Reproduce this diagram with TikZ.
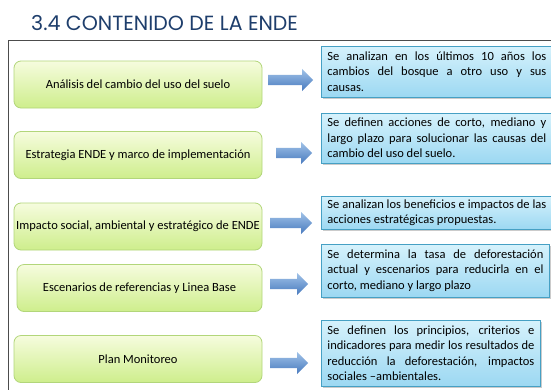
\documentclass[tikz,border=0pt]{standalone}
\usepackage{fontspec}
\setmainfont{Carlito}
\newfontfamily\titlefont{Poppins}
\usetikzlibrary{shapes.arrows,shadows}
\definecolor{titleblue}{RGB}{30,62,108}
\definecolor{stageedge}{RGB}{178,214,122}
\definecolor{stagetop}{RGB}{246,252,222}
\definecolor{stagebottom}{RGB}{206,238,140}
\definecolor{noteedge}{RGB}{70,160,196}
\definecolor{notetop}{RGB}{214,242,252}
\definecolor{notebottom}{RGB}{156,216,242}
\definecolor{arrowtop}{RGB}{160,194,232}
\definecolor{arrowbottom}{RGB}{72,122,190}
\newcommand\nohyph{\hyphenpenalty=10000 \exhyphenpenalty=10000 }

\begin{document}
\begin{tikzpicture}[
  	x=1pt,
  	y=-1pt,
  	font=\fontsize{12.5}{15}\selectfont,
  	stage/.style={draw=stageedge,line width=0.8pt,rounded corners=7pt,top color=stagetop,bottom color=stagebottom,minimum width=248pt,minimum height=47pt,align=center,inner sep=1pt},
  	note/.style={draw=noteedge,line width=0.8pt,top color=notetop,bottom color=notebottom,align=justify,inner xsep=6pt,anchor=west,font=\fontsize{12.5}{15.5}\selectfont\nohyph,drop shadow={shadow xshift=2pt,shadow yshift=-2pt,fill=black!40}},
  	pointer/.style={single arrow,draw=none,top color=arrowtop,bottom color=arrowbottom,inner xsep=0pt,inner ysep=5pt,single arrow head extend=6pt,anchor=west}
  	]
  	\clip (0,0) rectangle (551,389);
  	\fill[white] (0,0) rectangle (551,389);
  	
  	\node[anchor=base west,inner sep=0pt,font=\titlefont\fontsize{20.5}{25}\selectfont,text=titleblue] (title) at (31,30) {3.4 CONTENIDO DE LA ENDE};
  	
  	% frame
  	\draw[black!70,line width=0.9pt] (8,400) -- (8,40) -- (560,40);
  	
  	% left column
  	\node[stage] (stage1) at (138,84.5) {Análisis del cambio del uso del suelo};
  	\node[stage] (stage2) at (138,155) {Estrategia ENDE y marco de implementación};
  	\node[stage] (stage3) at (138,226.5) {Impacto social, ambiental y estratégico de ENDE};
  	\node[stage,minimum width=245pt] (stage4) at (139.5,288) {Escenarios de referencias y Linea Base};
  	\node[stage] (stage5) at (138,359) {Plan Monitoreo};
  	
  	% right column
  	\node[note,text width=219pt,minimum height=51pt] (note1) at (321,71.5) {Se analizan en los últimos 10 años los\linebreak cambios del bosque a otro uso y sus\linebreak causas.};
  	\node[note,text width=219pt,minimum height=50pt] (note2) at (321,138) {Se definen acciones de corto, mediano y\linebreak largo plazo para solucionar las causas del\linebreak cambio del uso del suelo.};
  	\node[note,text width=219pt,minimum height=31pt] (note3) at (321,212.5) {Se analizan los beneficios e impactos de las\linebreak acciones estratégicas propuestas.};
  	\node[note,text width=216pt,minimum height=53pt] (note4) at (321,270.5) {Se determina la tasa de deforestación\linebreak actual y escenarios para reducirla en el\linebreak corto, mediano y largo plazo};
  	\node[note,text width=207pt,minimum height=66pt] (note5) at (321,353) {Se definen los principios, criterios e\linebreak indicadores para medir los resultados de\linebreak reducción la deforestación, impactos\linebreak sociales –ambientales.};
  	
  	% block arrows
  	\node[pointer,minimum height=45pt] (pointer1) at (268,80) {};
  	\node[pointer,minimum height=36pt] (pointer2) at (276,153) {};
  	\node[pointer,minimum height=42pt] (pointer3) at (270,223) {};
  	\node[pointer,minimum height=38pt] (pointer4) at (270,284) {};
  	\node[pointer,minimum height=38pt] (pointer5) at (270,363) {};
\end{tikzpicture}
\end{document}
